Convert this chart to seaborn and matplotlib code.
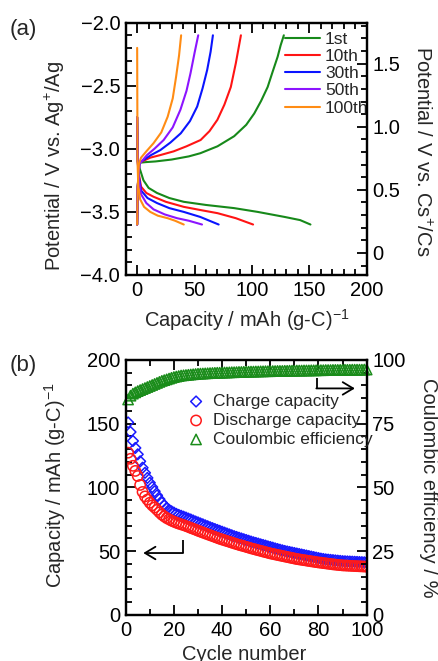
import matplotlib
matplotlib.use("Agg")
import matplotlib.pyplot as plt
from matplotlib.ticker import MultipleLocator, FuncFormatter
import seaborn as sns

sns.set_theme(style="ticks")
plt.rcParams["font.family"] = ["Liberation Sans", "DejaVu Sans"]
plt.rcParams["mathtext.fontset"] = "custom"
plt.rcParams["mathtext.rm"] = "Liberation Sans"
plt.rcParams["mathtext.it"] = "Liberation Sans:italic"
plt.rcParams["mathtext.default"] = "regular"

FS = 14.5

# ---- (a) charge / discharge curves --------------------------------------
cycle_labels = ["1st", "10th", "30th", "50th", "100th"]
cycle_colors = ["#17891a", "#ff1414", "#0a14ff", "#8c14ff", "#ff8c14"]

charge_cap = [
    [0, 0.5, 2, 8, 16, 30, 45, 55, 70, 84.5, 95, 102, 108, 113.7, 118, 122.4, 125, 127.8],
    [0, 0.5, 2, 11.4, 20, 31.8, 43, 55.3, 63, 69.9, 76, 81.6, 86, 90.4],
    [0, 0.5, 2, 5.5, 12, 20.2, 29, 38, 46, 52.3, 57, 61, 64, 66],
    [0, 0.5, 2, 8.5, 15, 23.1, 31, 37.7, 43, 46.5, 50, 53.2],
    [0, 0.5, 1.5, 3.4, 8, 14.3, 21, 26.6, 31, 33.9, 36.5, 38.3],
]
charge_pot = [
    [-3.6, -3.3, -3.11, -3.105, -3.10, -3.085, -3.06, -3.035, -2.98, -2.90, -2.81, -2.72, -2.62, -2.51, -2.39, -2.27, -2.18, -2.10],
    [-3.6, -3.3, -3.11, -3.07, -3.05, -3.02, -2.98, -2.93, -2.86, -2.77, -2.65, -2.51, -2.32, -2.10],
    [-3.6, -3.3, -3.11, -3.09, -3.05, -3.01, -2.95, -2.877, -2.78, -2.665, -2.52, -2.375, -2.23, -2.10],
    [-3.6, -3.3, -3.12, -3.05, -3.00, -2.93, -2.83, -2.69, -2.54, -2.40, -2.24, -2.10],
    [-3.6, -3.3, -3.12, -3.07, -3.02, -2.955, -2.87, -2.745, -2.60, -2.43, -2.26, -2.10],
]
discharge_cap = [
    [0, 0.5, 2, 5.5, 10, 17.3, 28, 40.6, 60, 84.5, 105, 128.5, 142, 151],
    [0, 0.5, 1.5, 3.4, 8, 14.3, 25, 40.6, 55, 70, 86, 101],
    [0, 0.5, 1.5, 3.4, 9, 17.3, 28, 40.6, 55, 71],
    [0, 0.5, 1.5, 3.4, 8, 14.3, 24, 34.8, 45, 56.5],
    [0, 0.3, 1, 2.6, 6, 11.4, 18, 26.6, 33, 40.6],
]
discharge_pot = [
    [-2.75, -3.1, -3.15, -3.25, -3.31, -3.35, -3.39, -3.42, -3.445, -3.47, -3.50, -3.54, -3.565, -3.60],
    [-2.75, -3.1, -3.2, -3.30, -3.35, -3.38, -3.42, -3.46, -3.485, -3.51, -3.55, -3.60],
    [-2.75, -3.1, -3.22, -3.33, -3.39, -3.43, -3.47, -3.50, -3.54, -3.60],
    [-2.75, -3.1, -3.25, -3.36, -3.43, -3.48, -3.52, -3.55, -3.57, -3.60],
    [-2.2, -3.1, -3.3, -3.40, -3.46, -3.50, -3.53, -3.55, -3.57, -3.60],
]
cs_offset = 3.825  # V vs. Cs+/Cs = V vs. Ag+/Ag + offset

# ---- (b) cycling -----------------------------------------------------------
cycle_no = list(range(1, 101))
charge_capacity = [
    151.0, 143.5, 136.5, 131.0, 126.0, 120.5, 115.5, 111.5, 107.5, 103.7,
    100.3, 97.0, 93.8, 90.8, 88.0, 85.8, 84.0, 82.5, 81.3, 80.3,
    79.3, 78.5, 77.8, 77.1, 76.4, 75.6, 74.9, 74.1, 73.3, 72.6,
    71.8, 71.1, 70.3, 69.6, 68.8, 68.1, 67.4, 66.7, 66.0, 65.3,
    64.6, 63.9, 63.2, 62.5, 61.8, 61.2, 60.6, 60.0, 59.4, 58.8,
    58.2, 57.6, 57.0, 56.5, 56.0, 55.4, 54.9, 54.4, 53.8, 53.3,
    52.8, 52.2, 51.7, 51.2, 50.7, 50.2, 49.8, 49.4, 49.0, 48.6,
    48.2, 47.8, 47.4, 47.0, 46.6, 46.2, 45.8, 45.4, 45.0, 44.6,
    44.2, 43.9, 43.6, 43.4, 43.2, 43.0, 42.8, 42.6, 42.4, 42.2,
    42.1, 42.0, 41.9, 41.8, 41.7, 41.6, 41.5, 41.4, 41.3, 41.2,
]
discharge_capacity = [
    127.3, 122.5, 117.0, 113.0, 109.0, 102.0, 96.5, 93.0, 90.5, 88.0,
    86.0, 84.3, 82.5, 80.5, 78.7, 77.3, 76.0, 75.0, 74.0, 73.2,
    72.4, 71.7, 71.1, 70.5, 69.8, 69.1, 68.3, 67.6, 66.9, 66.1,
    65.4, 64.7, 64.0, 63.3, 62.6, 61.9, 61.2, 60.5, 59.8, 59.2,
    58.6, 58.0, 57.4, 56.8, 56.2, 55.6, 55.0, 54.5, 54.0, 53.4,
    52.9, 52.3, 51.8, 51.3, 50.8, 50.3, 49.8, 49.3, 48.8, 48.3,
    47.9, 47.5, 47.1, 46.7, 46.3, 45.9, 45.5, 45.1, 44.7, 44.3,
    43.9, 43.6, 43.3, 43.0, 42.7, 42.4, 42.1, 41.8, 41.5, 41.2,
    41.0, 40.7, 40.5, 40.2, 40.0, 39.7, 39.5, 39.3, 39.1, 38.9,
    38.8, 38.7, 38.6, 38.5, 38.4, 38.3, 38.2, 38.1, 38.0, 37.9,
]
coulombic_eff = [
    84.5, 86.0, 86.8, 87.3, 87.8, 88.2, 88.6, 89.0, 89.4, 89.8,
    90.2, 90.6, 91.0, 91.4, 91.8, 92.1, 92.4, 92.7, 93.0, 93.3,
    93.5, 93.7, 93.9, 94.0, 94.1, 94.2, 94.3, 94.4, 94.5, 94.6,
    94.65, 94.7, 94.75, 94.8, 94.85, 94.9, 94.95, 95.0, 95.0, 95.05,
    95.1, 95.1, 95.15, 95.2, 95.2, 95.25, 95.3, 95.3, 95.35, 95.4,
    95.4, 95.45, 95.45, 95.5, 95.5, 95.55, 95.55, 95.6, 95.6, 95.6,
    95.65, 95.65, 95.7, 95.7, 95.7, 95.75, 95.75, 95.8, 95.8, 95.8,
    95.85, 95.85, 95.85, 95.9, 95.9, 95.9, 95.95, 95.95, 95.95, 96.0,
    96.0, 96.0, 96.05, 96.05, 96.05, 96.1, 96.1, 96.1, 96.1, 96.15,
    96.15, 96.15, 96.15, 96.2, 96.2, 96.2, 96.2, 96.2, 96.25, 96.25,
]


def style_axis(ax, **kw):
    ax.tick_params(which="both", direction="in", width=1.3, labelsize=FS,
                   colors="black", **kw)
    ax.tick_params(which="major", length=7, pad=4)
    ax.tick_params(which="minor", length=4)
    for sp in ax.spines.values():
        sp.set_linewidth(1.6)
        sp.set_color("black")
        sp.set_visible(True)


fig = plt.figure(figsize=(4.39, 6.61), dpi=100)

# ---------------- panel (a) ----------------
ax1 = fig.add_axes([0.2863, 0.584, 0.549, 0.3817])
for i, lab in enumerate(cycle_labels):
    sns.lineplot(x=discharge_cap[i], y=discharge_pot[i], ax=ax1, sort=False,
                 estimator=None, color=cycle_colors[i], lw=1.5)
    sns.lineplot(x=charge_cap[i], y=charge_pot[i], ax=ax1, sort=False,
                 estimator=None, color=cycle_colors[i], lw=1.5, label=lab)
ax1.set_xlim(-10, 200)
ax1.set_ylim(-4.0, -2.0)
ax1.xaxis.set_major_locator(MultipleLocator(50))
ax1.xaxis.set_minor_locator(MultipleLocator(10))
ax1.yaxis.set_major_locator(MultipleLocator(0.5))
ax1.yaxis.set_minor_locator(MultipleLocator(0.1))
ax1.yaxis.set_major_formatter(FuncFormatter(lambda v, p: f"{v:.1f}".replace("-", "\u2212")))
style_axis(ax1, top=True, left=True, bottom=True, right=False)
ax1.set_xlabel("Capacity / mAh (g-C)$^{\u22121}$", fontsize=FS)
ax1.set_ylabel("Potential / V vs. Ag$^{+}$/Ag", fontsize=FS)
ax1.xaxis.set_label_coords(0.503, -0.126)
ax1.yaxis.set_label_coords(-0.245, 0.43)
ax1.legend(loc="upper left", bbox_to_anchor=(0.661, 0.965), frameon=False,
           fontsize=12.5, handlelength=2.0, handletextpad=0.3,
           labelspacing=0.12, borderpad=0, borderaxespad=0)

ax1r = ax1.twinx()
ax1r.set_ylim(-4.0 + cs_offset, -2.0 + cs_offset)
ax1r.yaxis.set_major_locator(MultipleLocator(0.5))
ax1r.yaxis.set_minor_locator(MultipleLocator(0.1))
ax1r.yaxis.set_major_formatter(FuncFormatter(lambda v, p: "0" if abs(v) < 1e-9 else f"{v:.1f}"))
style_axis(ax1r, right=True, left=False, top=False, bottom=False)
ax1r.set_ylabel("Potential / V vs. Cs$^{+}$/Cs", fontsize=FS, rotation=270, va="bottom")
ax1r.yaxis.set_label_coords(1.187, 0.49)

# ---------------- panel (b) ----------------
ax2 = fig.add_axes([0.2863, 0.0696, 0.549, 0.3858])
sns.scatterplot(x=cycle_no, y=charge_capacity, ax=ax2, marker="D", s=30,
                facecolors="none", edgecolor="#1a1aff", linewidth=1.1,
                label="Charge capacity")
sns.scatterplot(x=cycle_no, y=discharge_capacity, ax=ax2, marker="o", s=55,
                facecolors="none", edgecolor="#ff1a1a", linewidth=1.1,
                label="Discharge capacity")
ax2.set_xlim(0, 100)
ax2.set_ylim(0, 200)
ax2.xaxis.set_major_locator(MultipleLocator(20))
ax2.xaxis.set_minor_locator(MultipleLocator(10))
ax2.yaxis.set_major_locator(MultipleLocator(50))
ax2.yaxis.set_minor_locator(MultipleLocator(10))
style_axis(ax2, top=True, left=True, bottom=True, right=False)
ax2.set_xlabel("Cycle number", fontsize=FS)
ax2.set_ylabel("Capacity / mAh (g-C)$^{\u22121}$", fontsize=FS)
ax2.xaxis.set_label_coords(0.49, -0.118)
ax2.yaxis.set_label_coords(-0.238, 0.508)

ax2r = ax2.twinx()
sns.scatterplot(x=cycle_no, y=coulombic_eff, ax=ax2r, marker="^", s=55,
                facecolors="none", edgecolor="#1a8c1a", linewidth=1.1,
                label="Coulombic efficiency", clip_on=False)
ax2r.set_ylim(0, 100)
ax2r.yaxis.set_major_locator(MultipleLocator(25))
ax2r.yaxis.set_minor_locator(MultipleLocator(5))
style_axis(ax2r, right=True, left=False, top=False, bottom=False)
ax2r.set_ylabel("Coulombic efficiency / %", fontsize=FS, rotation=270, va="bottom")
ax2r.yaxis.set_label_coords(1.218, 0.5)

h1, l1 = ax2.get_legend_handles_labels()
h2, l2 = ax2r.get_legend_handles_labels()
ax2.get_legend().remove()
ax2r.legend(h1 + h2, l1 + l2, loc="upper left", bbox_to_anchor=(0.256, 0.867),
            frameon=False, fontsize=12.5, handlelength=1.0, handletextpad=0.5,
            labelspacing=0.22, borderpad=0, borderaxespad=0)

# direction arrows
arrow_kw = dict(arrowstyle="->,head_length=0.75,head_width=0.45", color="black",
                lw=1.3, mutation_scale=10, shrinkA=0, shrinkB=0)
ax2.plot([79.3, 79.3], [185.8, 177.7], color="black", lw=1.3, solid_capstyle="butt")
ax2.annotate("", xy=(95.1, 177.7), xytext=(79.1, 177.7), arrowprops=arrow_kw)
ax2.plot([23.6, 23.6], [59, 48.6], color="black", lw=1.3, solid_capstyle="butt")
ax2.annotate("", xy=(7.3, 48.6), xytext=(23.8, 48.6), arrowprops=arrow_kw)

fig.text(10 / 439, 1 - 29 / 661, "(a)", fontsize=16, va="center", ha="left")
fig.text(10 / 439, 1 - 366 / 661, "(b)", fontsize=16, va="center", ha="left")

fig.savefig("out.png", dpi=100)
